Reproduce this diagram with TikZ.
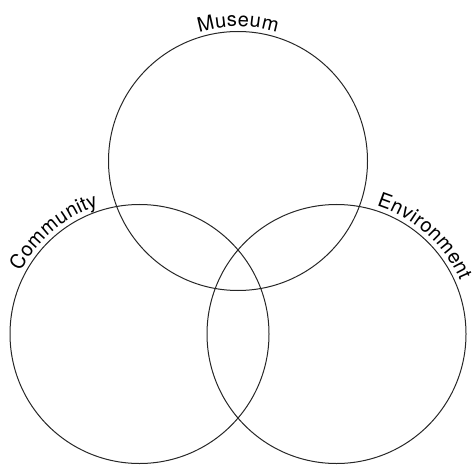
\documentclass[tikz,border=0pt]{standalone}
\usepackage{fontspec}
\setmainfont{TeX Gyre Heros}
\usetikzlibrary{decorations.text}
\tikzset{
  venn/.style={circle, draw=black!85, line width=1pt, minimum size=259pt, inner sep=0pt},
  curvedlabel/.style={decorate, decoration={text along path, text align=center, raise=5pt, text={|\fontsize{20}{20}\selectfont|#1}}}
}
\begin{document}
\begin{tikzpicture}[x=1pt,y=1pt]
\useasboundingbox (0,0) rectangle (476,464);
\node[venn] (museum) at (238,303) {};
\node[venn] (community) at (139.5,130) {};
\node[venn] (environment) at (336.5,130) {};
\path[curvedlabel=Museum] (museum.center) ++(150:129.5) arc[start angle=150, end angle=30, radius=129.5];
\path[curvedlabel=Community] (community.center) ++(191:129.5) arc[start angle=191, end angle=69, radius=129.5];
\path[curvedlabel=Environment] (environment.center) ++(109:129.5) arc[start angle=109, end angle=-13, radius=129.5];
\end{tikzpicture}
\end{document}
